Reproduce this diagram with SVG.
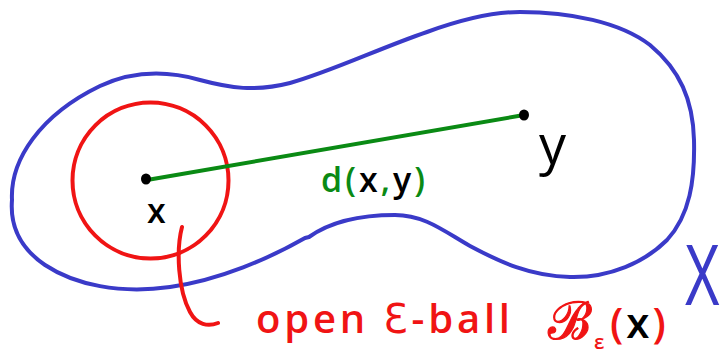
<svg xmlns="http://www.w3.org/2000/svg" width="720" height="356" viewBox="0 0 720 356">
<style>
  .hand { font-family: "Open Sans", "DejaVu Sans", sans-serif; font-weight: 600; }
  .blue { stroke: #3a3ac8; }
  .red { stroke: #f01414; }
  .green { stroke: #0a8a14; }
  .curve { fill: none; stroke-width: 4; stroke-linecap: round; stroke-linejoin: round; }
  .dot { fill: #000; }
  .tblack { fill: #000; }
  .tred { fill: #f01414; }
  .tgreen { fill: #0a8a14; }
  .tblue { fill: #3a3ac8; }
</style>
<rect width="720" height="356" fill="#fff"/>

<g id="space-X">
  <path class="curve blue" d="M 12,200 C 10,160 40,115 100,86 C 130,72 165,70 200,80 C 230,88 255,92 290,83 C 330,72 380,48 427,32 C 460,20 490,12 520,12 C 570,12 620,22 650,45 C 680,70 693,100 694,140 C 695,180 690,215 667,240 C 645,262 610,278 570,277 C 530,276 500,262 470,246 C 445,232 425,215 395,215 C 360,215 330,222 309,237 L 305,238 C 270,258 220,280 170,287 C 120,294 75,285 45,265 C 20,248 10,225 12,200 Z"/>
  <text class="tblue" transform="translate(684,305) scale(0.62,1)" x="0" y="0" font-family="Liberation Sans, sans-serif" font-size="88">X</text>
</g>

<g id="ball">
  <circle class="curve red" cx="150.5" cy="180.5" r="78"/>
</g>

<g id="connectors">
  <path class="curve green" d="M 147,180 L 524,115"/>
  <path class="curve red" d="M 182,227 C 176,250 178,290 190,312 C 197,325 208,327 218,323"/>
</g>

<g id="node-x">
  <ellipse class="dot" cx="146" cy="179" rx="5" ry="5.5"/>
  <text class="hand tblack" x="147" y="223" font-size="34">x</text>
</g>

<g id="node-y">
  <ellipse class="dot" cx="524" cy="115" rx="5" ry="5.5"/>
  <text class="tblack" x="539" y="164" font-family="Open Sans, DejaVu Sans, sans-serif" font-size="54">y</text>
</g>

<g id="label-distance">
  <text class="hand" x="321" y="192" font-size="34" letter-spacing="3"><tspan class="tgreen">d(</tspan><tspan class="tblack">x</tspan><tspan class="tgreen">,</tspan><tspan class="tblack">y</tspan><tspan class="tgreen">)</tspan></text>
</g>

<g id="label-ball">
  <text class="hand tred" x="256" y="333" font-size="40" textLength="254" lengthAdjust="spacing">open <tspan font-weight="400">Ɛ</tspan>-ball</text>
  <text class="tred" x="548" y="339" font-family="DejaVu Serif, serif" font-size="52" stroke="#f01414" stroke-width="1.2">ℬ</text>
  <text class="hand tred" x="594" y="349" font-size="20">ε</text>
  <text class="hand" x="610" y="338" font-size="42" letter-spacing="3"><tspan class="tred">(</tspan><tspan class="tblack">x</tspan><tspan class="tred">)</tspan></text>
</g>
</svg>
